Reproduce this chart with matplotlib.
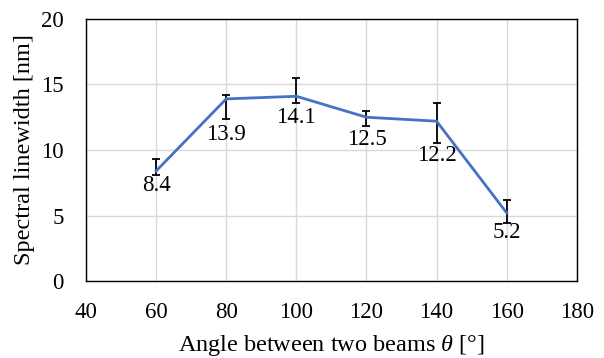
import numpy as np
import matplotlib.pyplot as plt

plt.rcParams['font.family'] = ['Liberation Serif', 'DejaVu Serif']
plt.rcParams['mathtext.fontset'] = 'custom'
plt.rcParams['mathtext.it'] = 'Liberation Serif:italic'
plt.rcParams['mathtext.rm'] = 'Liberation Serif'

# data
angles = [60, 80, 100, 120, 140, 160]
linewidth = [8.4, 13.9, 14.1, 12.5, 12.2, 5.2]
err_low = [0.3, 1.5, 0.55, 0.7, 1.7, 0.8]
err_high = [0.9, 0.3, 1.4, 0.5, 1.4, 1.0]
value_labels = ['8.4', '13.9', '14.1', '12.5', '12.2', '5.2']
label_drop = [15, 36, 21, 22, 34, 20]  # px below the point

fig = plt.figure(figsize=(6.04, 3.58), dpi=100)
ax = fig.add_axes([0.1424, 0.215, 0.8126, 0.732])

ax.errorbar(angles, linewidth, yerr=[err_low, err_high], fmt='none',
            ecolor='black', elinewidth=1.3, capsize=3, capthick=1.3, zorder=3)
ax.plot(angles, linewidth, color='#4472C4', lw=2, zorder=4)

for x, y, s, d in zip(angles, linewidth, value_labels, label_drop):
    ax.annotate(s, (x, y), xytext=(0, -d * 0.72), textcoords='offset points',
                ha='center', va='center', fontsize=16.5, zorder=5)

ax.set_xlim(40, 180)
ax.set_ylim(0, 20)
ax.set_xticks(np.arange(40, 181, 20))
ax.set_yticks(np.arange(0, 21, 5))
ax.grid(True, color='#D9D9D9', lw=1)
ax.set_axisbelow(True)
ax.tick_params(length=0, labelsize=16.5)
ax.tick_params(axis='x', pad=15)
ax.tick_params(axis='y', pad=16)
for sp in ax.spines.values():
    sp.set_color('black')
    sp.set_linewidth(1)

ax.set_xlabel(r'Angle between two beams $\it{\theta}$ [°]', fontsize=17.5, labelpad=7)
ax.set_ylabel('Spectral linewidth [nm]', fontsize=17.5, labelpad=4)

fig.savefig('out.png', dpi=100)
